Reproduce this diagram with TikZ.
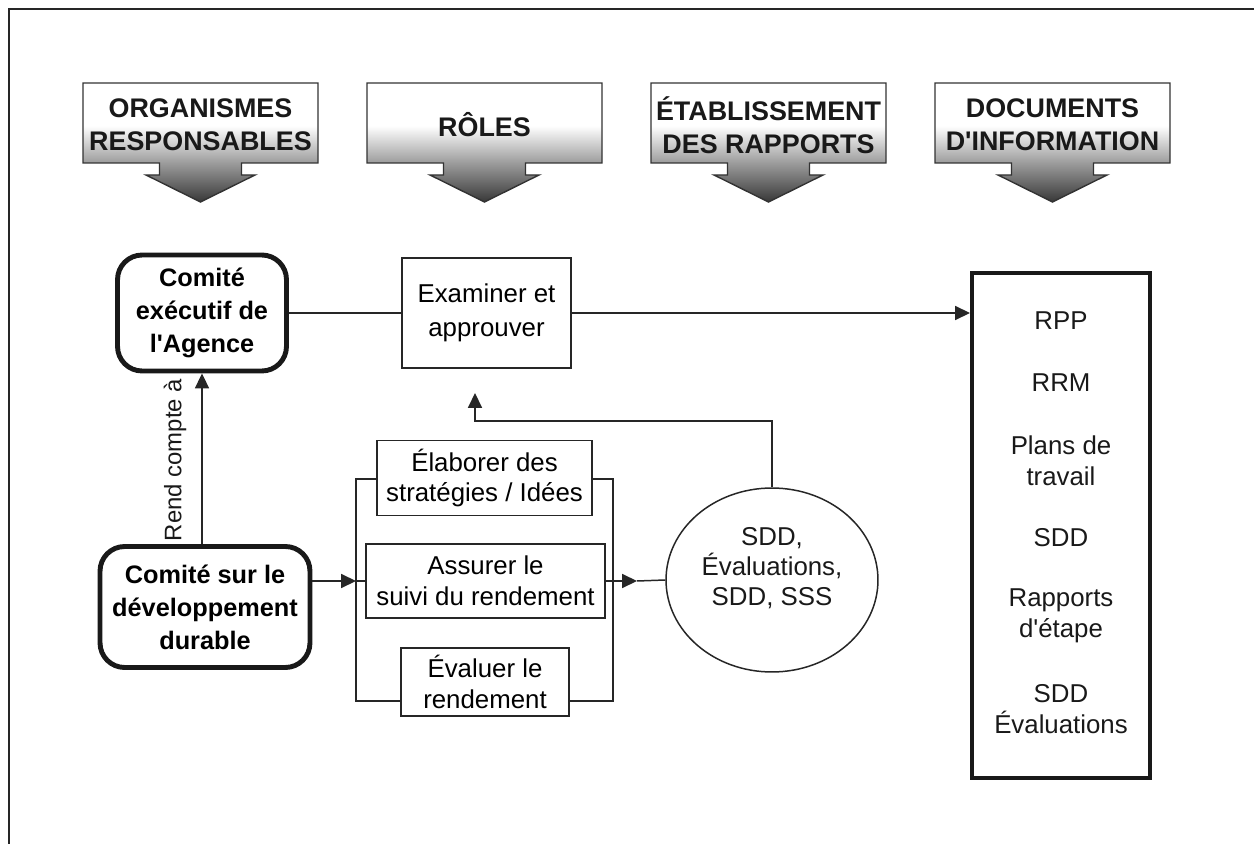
\documentclass[tikz,border=0pt]{standalone}
\usepackage{fontspec}
\setmainfont{Liberation Sans}
\usetikzlibrary{arrows.meta,shapes.geometric,calc}
\pgfdeclareverticalshading{hdrshade}{100bp}{color(0bp)=(black!78); color(25bp)=(black!78); color(41bp)=(black!40); color(57bp)=(white); color(100bp)=(white)}
\newcommand{\apos}{\textquotesingle}
\begin{document}
\begin{tikzpicture}[x=0.02cm,y=-0.02cm,
  conn/.style={line width=0.85pt, draw=black!85},
  arr/.style={conn,-{Triangle[length=8.5pt,width=8pt]}},
  roundbox/.style={draw=black!90, line width=2.8pt, rounded corners=14pt, align=center, font=\bfseries\fontsize{14.4}{18.7}\selectfont, inner sep=0pt},
  plainbox/.style={draw=black!85, line width=1pt, align=center, font=\fontsize{14.7}{17.6}\selectfont, inner sep=0pt},
  txt/.style={align=center, font=\fontsize{14.7}{17.6}\selectfont, inner sep=0pt, text=black!90},
  hdrtxt/.style={align=center, font=\bfseries\fontsize{15.3}{18.7}\selectfont, inner sep=0pt, text=black!90},
  hdrshape/.style={shading=hdrshade, draw=black!80, line width=0.8pt},
]
\useasboundingbox (0,0) rectangle (1254,844);
% outer frame
\draw[line width=1.5pt, black!85] (9,844) -- (9,9) -- (1254,9);

% header arrows
\foreach \L/\t/\n in {83/{ORGANISMES\\RESPONSABLES}/h1, 367/{RÔLES}/h2, 651/{ÉTABLISSEMENT\\DES RAPPORTS}/h3, 935/{DOCUMENTS\\D\apos INFORMATION}/h4}{
  \pgfmathsetmacro\c{\L+117.5}
  \shadedraw[hdrshape] (\L,83) -- (\L+235,83) -- (\L+235,163) -- (\c+41,163) -- (\c+41,175) -- (\c+54.5,175) -- (\c,202) -- (\c-54.5,175) -- (\c-41,175) -- (\c-41,163) -- (\L,163) -- cycle;
  \node[hdrtxt] (\n) at (\c,125) {\t};
}

% committees
\node[roundbox, minimum width=3.38cm, minimum height=2.32cm] (exec) at (202,313) {Comité\\exécutif de\\l\apos Agence};
\node[roundbox, minimum width=4.2cm, minimum height=2.42cm] (dd) at (205,607) {Comité sur le\\développement\\durable};

% roles
\node[plainbox, minimum width=3.38cm, minimum height=2.2cm, font=\fontsize{14.7}{19}\selectfont] (exam) at (486.5,313) {Examiner et\\approuver};
\node[plainbox, minimum width=4.3cm, minimum height=1.5cm] (elab) at (484.5,478) {Élaborer des\\stratégies / Idées};
\node[plainbox, minimum width=4.78cm, minimum height=1.48cm] (assur) at (485.5,581) {Assurer le\\suivi du rendement};
\node[plainbox, minimum width=3.36cm, minimum height=1.36cm] (eval) at (485,682) {Évaluer le\\rendement};

% ellipse
\node[ellipse, draw=black!85, line width=0.85pt, minimum width=4.24cm, minimum height=3.68cm, inner sep=0pt] (ell) at (772,580) {};
\node[txt, font=\fontsize{14.7}{17}\selectfont] (elltxt) at (772,568) {SDD,\\Évaluations,\\SDD, SSS};

% documents box
\node[draw=black!90, line width=2.3pt, minimum width=3.56cm, minimum height=10.1cm, inner sep=0pt] (docs) at (1061,525.5) {};
\node[txt] (d1) at (1061,321) {RPP};
\node[txt] (d2) at (1061,383) {RRM};
\node[txt] (d3) at (1061,461) {Plans de\\travail};
\node[txt] (d4) at (1061,538) {SDD};
\node[txt] (d5) at (1061,616) {Rapports\\d\apos étape};
\node[txt] (d6) at (1061,709) {SDD\\Évaluations};

% bracket
\coordinate (bTL) at (356,479);
\coordinate (bBL) at (356,701);
\coordinate (bTR) at (613,479);
\coordinate (bBR) at (613,701);
\draw[conn] (elab.west |- bTL) -- (bTL) -- (bBL) -- (bBL -| eval.west);
\draw[conn] (elab.east |- bTR) -- (bTR) -- (bBR) -- (bBR -| eval.east);

% connectors
\draw[conn] (exec.east) -- (exam.west);
\draw[arr] (exam.east) -- (exam.east -| docs.west);
\draw[arr] (dd.north -| exec.south) -- (exec.south);
\node[txt, rotate=90, font=\fontsize{13.6}{17}\selectfont] (rend) at (175,460) {Rend compte à};
\draw[arr] (dd.east |- assur.west) -- (bTL |- assur.west);
\draw[conn] (bTL |- assur.west) -- (assur.west);
\coordinate (atip) at ($(bTR |- assur.east)+(24,0)$);
\draw[arr] (assur.east) -- (atip);
\draw[conn] (atip) -- (ell.west);
\coordinate (fbcorner) at (475,421);
\coordinate (fbtip) at (475,393);
\draw[arr] (ell.north) |- (fbcorner) -- (fbtip);
\end{tikzpicture}
\end{document}
